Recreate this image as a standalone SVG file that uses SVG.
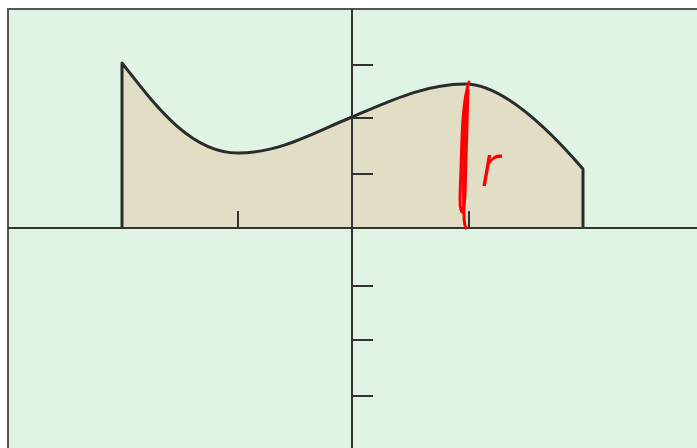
<svg xmlns="http://www.w3.org/2000/svg" width="697" height="448" viewBox="0 0 697 448">
<style>
.axis{stroke:#333;stroke-width:2;fill:none}
.tick{stroke:#333;stroke-width:2;fill:none}
.border{stroke:#555;stroke-width:2;fill:none}
.curve{stroke:#2b2b2b;stroke-width:3;fill:none;stroke-linejoin:round}
.red{stroke:#ff0000;stroke-width:3;fill:none;stroke-linecap:round}
</style>
<rect x="0" y="0" width="697" height="448" fill="#ffffff"/>
<rect x="8" y="9" width="689" height="439" fill="#e0f4e6"/>
<g id="region">
<path d="M122,228 L122,63 C155,105 190,153 238,153 C280,153 315,132 352,117 C390,101 425,84 465,84 C500,84 545,125 583,169 L583,228 Z" fill="#e1dec5"/>
<path class="curve" d="M122,228 L122,63 C155,105 190,153 238,153 C280,153 315,132 352,117 C390,101 425,84 465,84 C500,84 545,125 583,169 L583,228"/>
</g>
<g id="frame">
<path class="border" d="M8,448 L8,9 L697,9"/>
</g>
<g id="axes">
<line class="axis" x1="8" y1="228" x2="697" y2="228"/>
<line class="axis" x1="352" y1="9" x2="352" y2="448"/>
<g class="tick">
<line x1="352" y1="65" x2="373" y2="65"/>
<line x1="352" y1="118" x2="373" y2="118"/>
<line x1="352" y1="174" x2="373" y2="174"/>
<line x1="352" y1="286" x2="373" y2="286"/>
<line x1="352" y1="340" x2="373" y2="340"/>
<line x1="352" y1="396" x2="373" y2="396"/>
<line x1="238" y1="211" x2="238" y2="228"/>
<line x1="469" y1="211" x2="469" y2="228"/>
</g>
</g>
<g id="annotation">
<path class="red" d="M469,82 C463,100 462,130 461,170 C460,195 459,208 462,212 C464,214 464,205 465,195 C466,160 467,120 468,90"/>
<path class="red" d="M466,100 C464,140 463,185 464,215 C464,222 465,226 466,228"/>
<text x="481" y="186" font-family="Roboto, 'DejaVu Sans', sans-serif" font-weight="300" font-style="italic" font-size="60" fill="#ff0000">r</text>
</g>
</svg>
